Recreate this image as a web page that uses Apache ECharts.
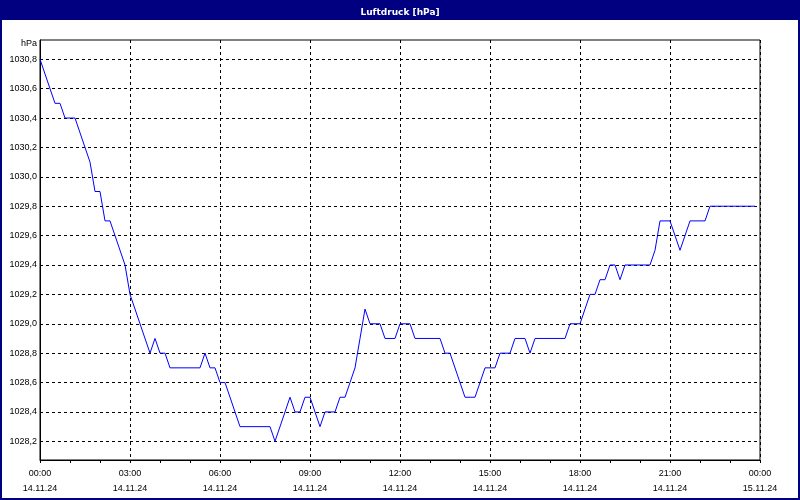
<!DOCTYPE html>
<html>
<head>
<meta charset="utf-8">
<script src="https://cdn.jsdelivr.net/npm/echarts@6/dist/echarts.min.js"></script>
<style>
  html, body { margin: 0; padding: 0; background: #fff; }
  #chart { width: 800px; height: 500px; }
</style>
</head>
<body>
<div id="chart"></div>
<script>
// Zeit in Minuten ab 14.11.24 00:00
var zeiten = [0, 30, 40, 50, 70, 100, 110, 120, 130, 140, 170, 180, 220, 230, 240, 250, 260, 320, 330, 340,
  350, 360, 370, 400, 460, 470, 500, 510, 520, 530, 540, 560, 570, 590, 600, 610, 620, 630, 640, 650,
  660, 680, 690, 710, 720, 740, 750, 800, 810, 820, 850, 870, 890, 910, 920, 940, 950, 970, 980, 990,
  1050, 1060, 1080, 1100, 1110, 1120, 1130, 1140, 1150, 1160, 1170, 1220, 1230, 1240, 1260, 1280, 1300, 1330, 1340, 1430];
var luftdruck = [1030.8, 1030.5, 1030.5, 1030.4, 1030.4, 1030.1, 1029.9, 1029.9, 1029.7, 1029.7, 1029.4, 1029.2, 1028.8, 1028.9, 1028.8, 1028.8, 1028.7, 1028.7, 1028.8, 1028.7,
  1028.7, 1028.6, 1028.6, 1028.3, 1028.3, 1028.2, 1028.5, 1028.4, 1028.4, 1028.5, 1028.5, 1028.3, 1028.4, 1028.4, 1028.5, 1028.5, 1028.6, 1028.7, 1028.9, 1029.1,
  1029.0, 1029.0, 1028.9, 1028.9, 1029.0, 1029.0, 1028.9, 1028.9, 1028.8, 1028.8, 1028.5, 1028.5, 1028.7, 1028.7, 1028.8, 1028.8, 1028.9, 1028.9, 1028.8, 1028.9,
  1028.9, 1029.0, 1029.0, 1029.2, 1029.2, 1029.3, 1029.3, 1029.4, 1029.4, 1029.3, 1029.4, 1029.4, 1029.5, 1029.7, 1029.7, 1029.5, 1029.7, 1029.7, 1029.8, 1029.8];

var uhrzeiten = ['00:00', '03:00', '06:00', '09:00', '12:00', '15:00', '18:00', '21:00', '00:00'];
var datum = ['14.11.24', '14.11.24', '14.11.24', '14.11.24', '14.11.24', '14.11.24', '14.11.24', '14.11.24', '15.11.24'];
var yTicks = [1028.2, 1028.4, 1028.6, 1028.8, 1029.0, 1029.2, 1029.4, 1029.6, 1029.8, 1030.0, 1030.2, 1030.4, 1030.6, 1030.8];

var daten = [];
for (var i = 0; i < zeiten.length; i++) {
  daten.push([zeiten[i], luftdruck[i]]);
}

var navy = '#000080';
var schrift = 'Liberation Sans';

var chartDom = document.getElementById('chart');
var myChart = echarts.init(chartDom);
var option;

option = {
  animation: false,
  backgroundColor: '#fff',
  title: {
    text: 'Luftdruck [hPa]',
    left: 'center',
    top: 3,
    textStyle: { color: '#fff', fontFamily: 'DejaVu Sans', fontWeight: 'bold', fontSize: 9 }
  },
  graphic: [
    { type: 'rect', z: -1, shape: { x: 0, y: 0, width: 800, height: 20 }, style: { fill: navy } },
    { type: 'rect', z: -1, shape: { x: 1, y: 1, width: 798, height: 498 }, style: { fill: null, stroke: navy, lineWidth: 2 } },
    { type: 'text', left: 21, top: 39, style: { text: 'hPa', fill: '#000', font: '9px "' + schrift + '"' } }
  ],
  grid: {
    left: 40, right: 40, top: 40, bottom: 40,
    show: true, borderColor: '#000', borderWidth: 1, backgroundColor: '#fff'
  },
  xAxis: [
    {
      type: 'value', min: 0, max: 1440, interval: 180,
      axisLine: { show: true, lineStyle: { color: '#000' } },
      axisTick: { show: false },
      splitLine: { show: true, lineStyle: { color: '#000', type: [3, 3], width: 1 } },
      axisLabel: {
        color: '#000', fontFamily: schrift, fontSize: 9, lineHeight: 15, margin: 6,
        showMinLabel: true, showMaxLabel: true,
        formatter: function (value) {
          var idx = Math.round(value / 180);
          return uhrzeiten[idx] + '\n' + datum[idx];
        }
      }
    },
    {
      type: 'value', min: 0, max: 1440, interval: 60, position: 'bottom',
      axisLine: { show: false },
      axisTick: { show: true, length: 3, lineStyle: { color: '#000' } },
      splitLine: { show: false },
      axisLabel: { show: false }
    }
  ],
  yAxis: {
    type: 'value', min: 1028.073, max: 1030.931,
    axisLine: { show: true, lineStyle: { color: '#000' } },
    axisTick: { show: false, customValues: yTicks },
    splitLine: { show: true, lineStyle: { color: '#000', type: [3, 3], width: 1 } },
    axisLabel: {
      color: '#000', fontFamily: schrift, fontSize: 9, margin: 3,
      customValues: yTicks,
      formatter: function (value) {
        return value.toFixed(1).replace('.', ',');
      }
    }
  },
  series: [
    {
      type: 'line',
      data: daten,
      showSymbol: false,
      lineStyle: { color: '#0000ff', width: 1 },
      itemStyle: { color: '#0000ff' }
    }
  ]
};

option && myChart.setOption(option);
</script>
</body>
</html>
